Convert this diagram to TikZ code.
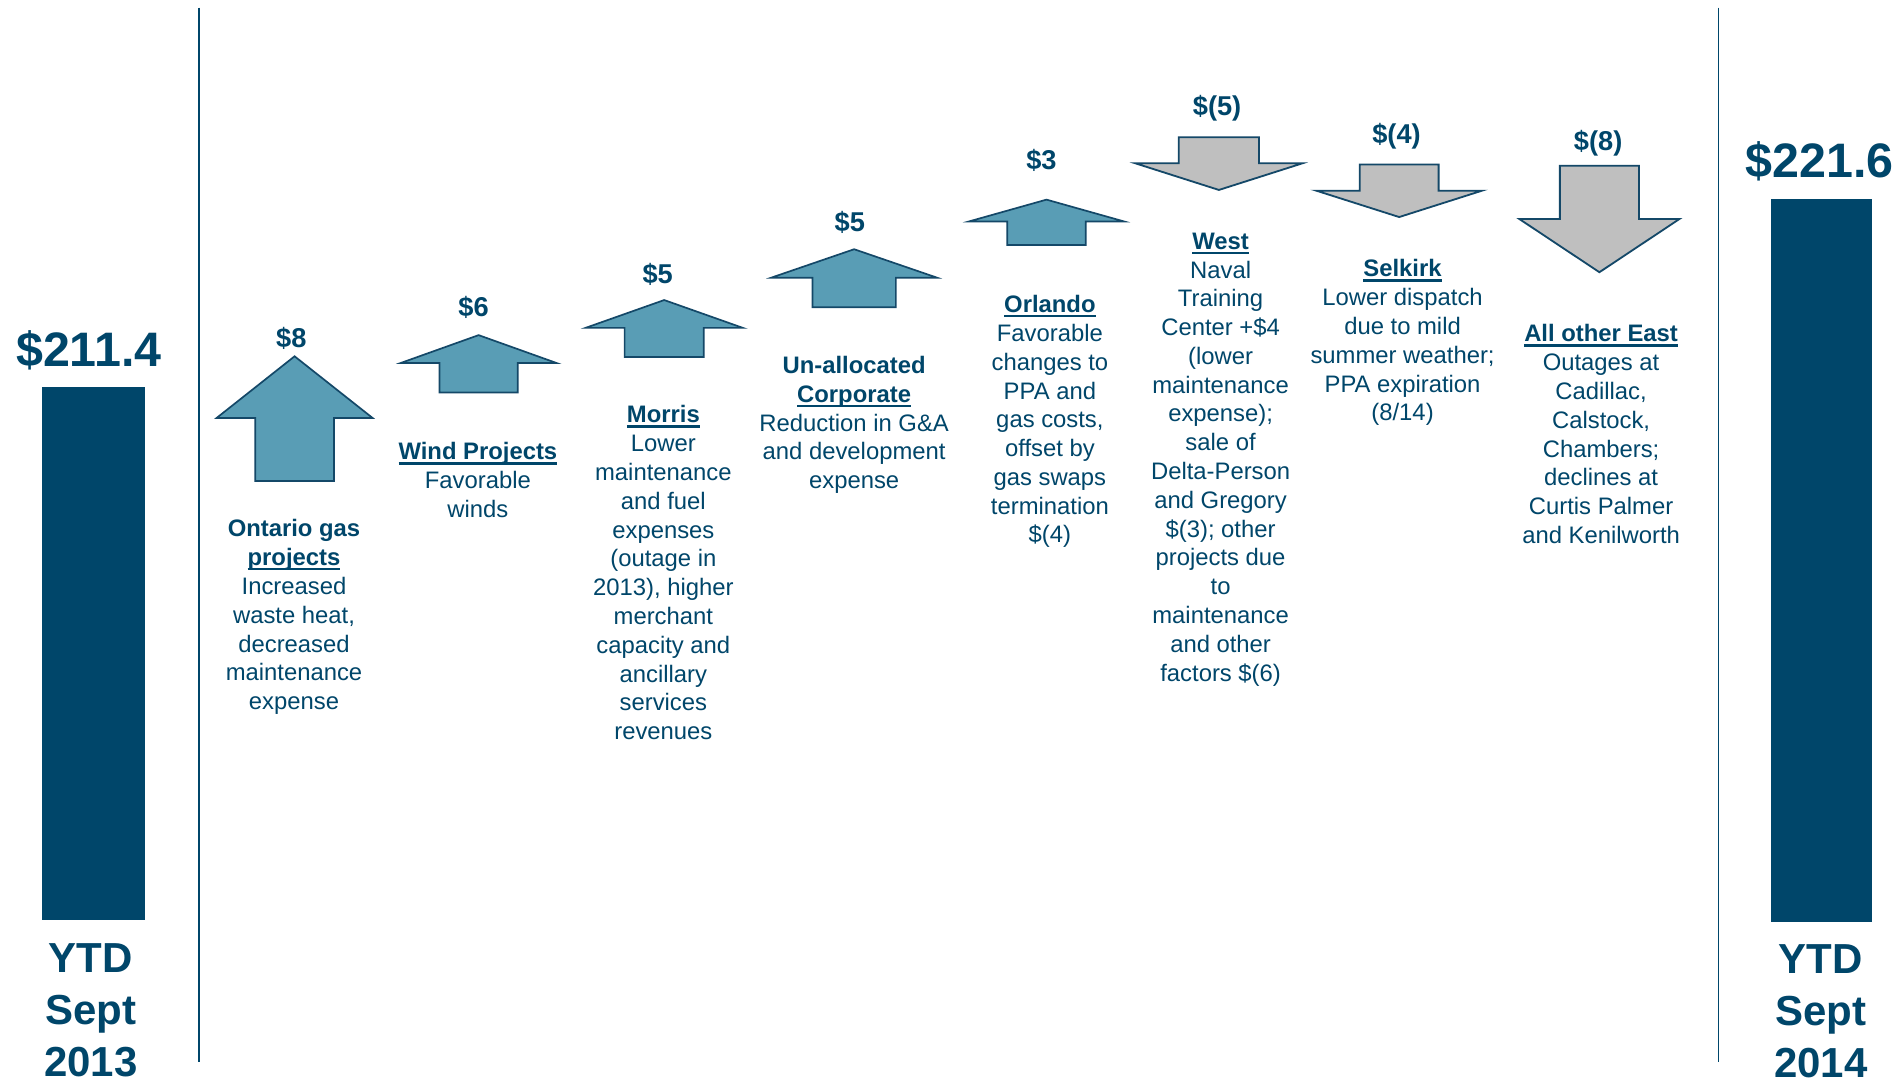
\documentclass[tikz,border=0pt]{standalone}
\usepackage{fontspec}
\setmainfont{Liberation Sans}
\definecolor{navy}{RGB}{0,70,106}
\definecolor{upfill}{RGB}{89,157,181}
\definecolor{downfill}{RGB}{191,191,191}
\definecolor{arrline}{RGB}{20,72,104}
\newcommand\ul[1]{\setbox0\hbox{#1}\rlap{\rule[-3.8pt]{\wd0}{1.8pt}}\box0}
\newcommand\fl{\rule{0pt}{16pt}}
\newcommand\mkuparrow[6]{%
  \draw[uparr] ({#1-#4},#3) -- (#1,#2) -- ({#1+#4},#3) -- ({#1+#5},#3) -- ({#1+#5},#6) -- ({#1-#5},#6) -- ({#1-#5},#3) -- cycle;}
\newcommand\mkdownarrow[6]{%
  \draw[downarr] ({#1-#6},#2) -- ({#1+#6},#2) -- ({#1+#6},#3) -- ({#1+#5},#3) -- (#1,#4) -- ({#1-#5},#3) -- ({#1-#6},#3) -- cycle;}
\tikzset{
  desc/.style={anchor=north, align=center, inner sep=0pt, text=navy, font=\fontsize{19.7}{23.8}\selectfont},
  val/.style={anchor=base, inner sep=0pt, text=navy, font=\fontsize{22.5}{27}\selectfont\bfseries},
  big/.style={anchor=base, inner sep=0pt, text=navy, font=\fontsize{40}{48}\selectfont\bfseries},
  ytd/.style={anchor=north, align=center, inner sep=0pt, text=navy, font=\fontsize{34.7}{42.8}\selectfont\bfseries},
  uparr/.style={fill=upfill, draw=arrline, line width=1.4pt, line join=miter},
  downarr/.style={fill=downfill, draw=arrline, line width=1.5pt, line join=miter},
  bar/.style={fill=navy},
  divider/.style={draw=navy, line width=1.5pt}
}
\begin{document}
\begin{tikzpicture}[x=1pt,y=-1pt]
\useasboundingbox[fill=white] (0,0) rectangle (1568,892);
% dividers
\draw[divider] (164.3,6.3) -- (164.3,877.5);
\draw[divider] (1420.5,6.3) -- (1420.5,877.5);
% bars
\fill[bar] (35,319.8) rectangle (119.8,760.4);
\fill[bar] (1464,164.5) rectangle (1547,762);
\node[big] (v2013) at (73.4,303) {\$211.4};
\node[big] (v2014) at (1504,147) {\$221.6};
\node[ytd] (y2013) at (75,775.6) {\rule{0pt}{28pt}YTD\\Sept\\2013};
\node[ytd] (y2014) at (1505,776.5) {\rule{0pt}{28pt}YTD\\Sept\\2014};
% arrows
\mkuparrow{243.5}{294.5}{345.5}{64.5}{32.5}{397.6}
\mkuparrow{395.6}{277}{300}{64.3}{32.4}{324.4}
\mkuparrow{549}{248}{271}{65}{32.7}{295}
\mkuparrow{706}{206}{229.5}{68.5}{34.5}{254}
\mkuparrow{865}{165}{183}{64}{32.5}{202.5}
\mkdownarrow{1007.5}{113.5}{135}{157}{69}{33.2}
\mkdownarrow{1156.5}{136}{157.6}{179.4}{68.5}{32.6}
\mkdownarrow{1322}{137}{181}{225}{66.2}{32.7}
% values
\node[val] (n1) at (240.8,287.4) {\$8};
\node[val] (n2) at (391.4,261.7) {\$6};
\node[val] (n3) at (543.6,234.2) {\$5};
\node[val] (n4) at (702.4,191.5) {\$5};
\node[val] (n5) at (860.8,140.5) {\$3};
\node[val] (n6) at (1006,95.5) {\$(5)};
\node[val] (n7) at (1154.3,119) {\$(4)};
\node[val] (n8) at (1321,124.5) {\$(8)};
% descriptions
\node[desc] (d1) at (243,427.6) {\fl\textbf{Ontario gas}\\\ul{\textbf{projects}}\\Increased\\waste heat,\\decreased\\maintenance\\expense};
\node[desc] (d2) at (395,364) {\fl\ul{\textbf{Wind Projects}}\\Favorable\\winds};
\node[desc] (d3) at (548.3,333.4) {\fl\ul{\textbf{Morris}}\\Lower\\maintenance\\and fuel\\expenses\\(outage in\\2013), higher\\merchant\\capacity and\\ancillary\\services\\revenues};
\node[desc] (d4) at (706,292.6) {\fl\textbf{Un-allocated}\\\ul{\textbf{Corporate}}\\Reduction in G\&A\\and development\\expense};
\node[desc] (d5) at (867.8,242.2) {\fl\ul{\textbf{Orlando}}\\Favorable\\changes to\\PPA and\\gas costs,\\offset by\\gas swaps\\termination\\\$(4)};
\node[desc] (d6) at (1008.9,189.8) {\fl\ul{\textbf{West}}\\Naval\\Training\\Center +\$4\\(lower\\maintenance\\expense);\\sale of\\Delta-Person\\and Gregory\\\$(3); other\\projects due\\to\\maintenance\\and other\\factors \$(6)};
\node[desc] (d7) at (1159.3,212.7) {\fl\ul{\textbf{Selkirk}}\\Lower dispatch\\due to mild\\summer weather;\\PPA expiration\\(8/14)};
\node[desc] (d8) at (1323.4,266.4) {\fl\ul{\textbf{All other East}}\\Outages at\\Cadillac,\\Calstock,\\Chambers;\\declines at\\Curtis Palmer\\and Kenilworth};
\end{tikzpicture}
\end{document}
